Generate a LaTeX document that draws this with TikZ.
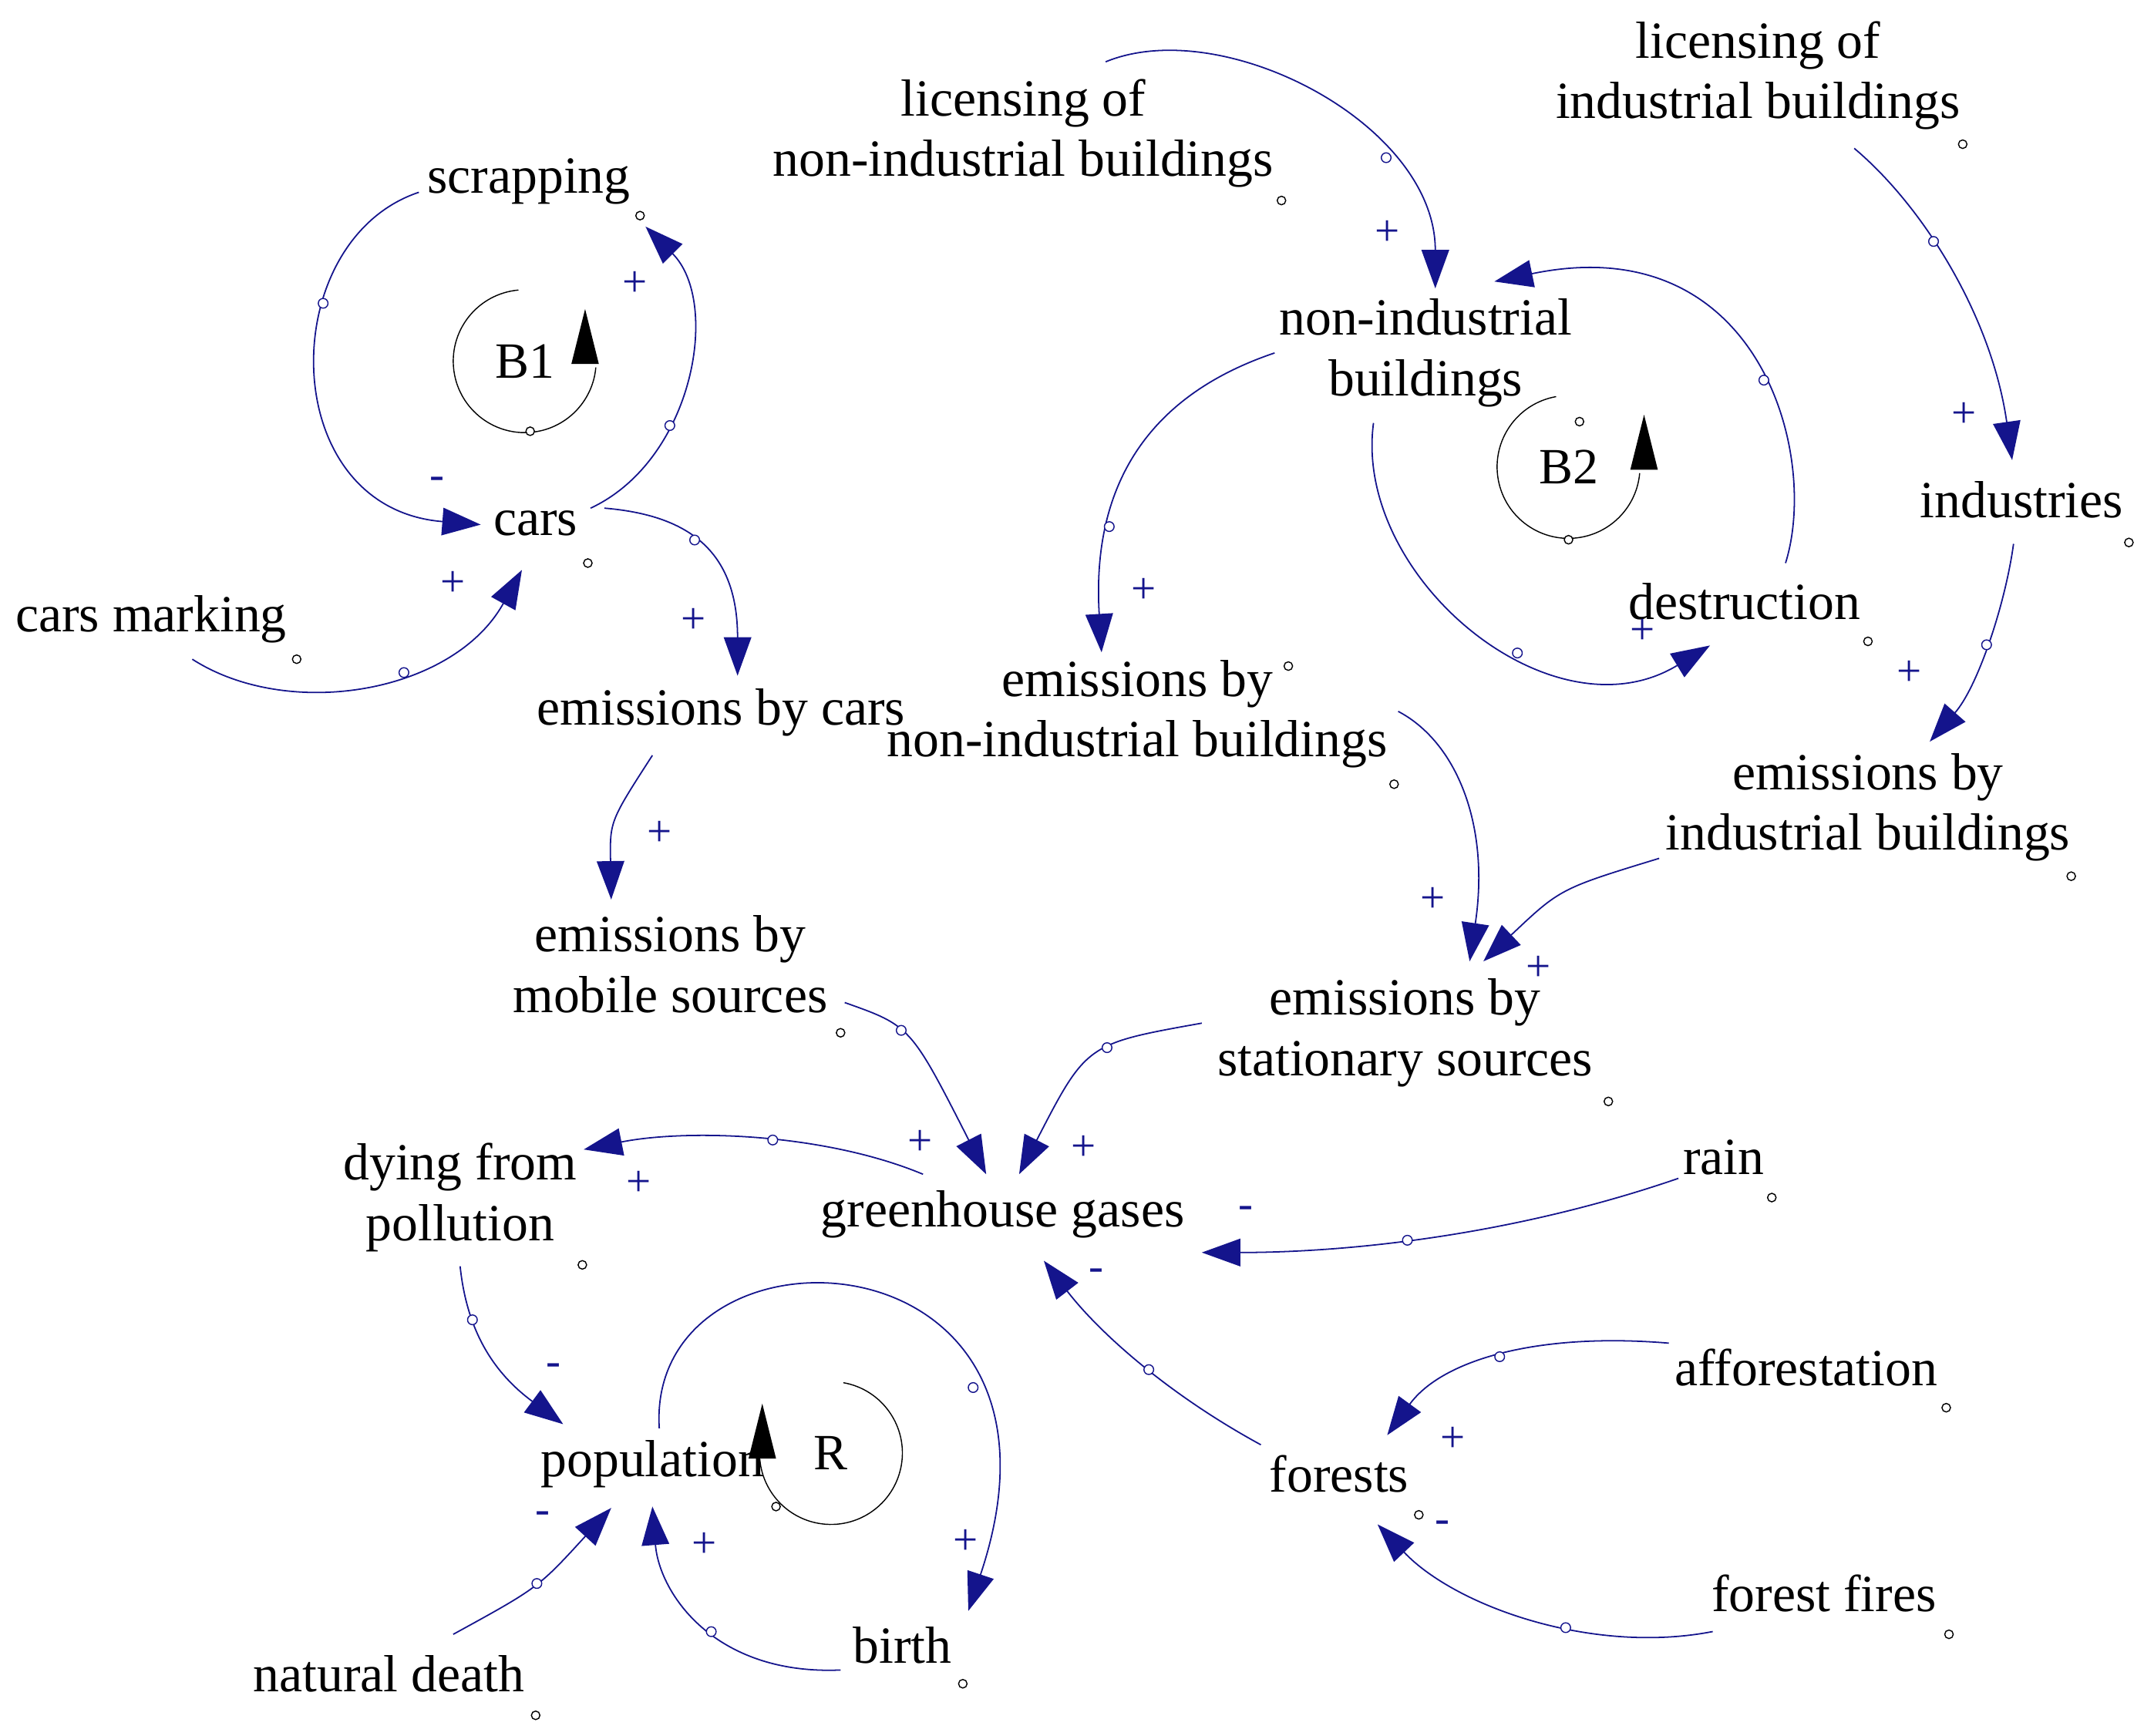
\documentclass[tikz,border=0pt]{standalone}
\usepackage{fontspec}
\setmainfont{Liberation Serif}
\usetikzlibrary{arrows.meta}
\definecolor{nv}{RGB}{20,20,140}
\begin{document}
\begin{tikzpicture}[x=1pt,y=-1pt,
 t/.style={font=\fontsize{38}{44}\selectfont,align=center,inner sep=1pt},
 ar/.style={draw=nv,line width=1pt,-{Triangle[length=28pt,width=20pt]},fill=none},
 h/.style={circle,draw=nv,fill=white,inner sep=2.5pt,line width=0.8pt},
 s/.style={text=nv,font=\fontsize{32}{32}\selectfont},
 lp/.style={draw=black,line width=0.8pt},
 tri/.style={fill=black},
 lt/.style={font=\fontsize{37}{40}\selectfont}]
\useasboundingbox (0,0) rectangle (1561,1264);
% nodes
\node[t] (scr) at (385,132) {scrapping};
\node[t] (cars) at (390,381) {cars};
\node[t] (cm) at (110,451) {cars marking};
\node[t] (ebc) at (525,519) {emissions by cars};
\node[t] (mob) at (488,702) {emissions by\\mobile sources};
\node[t] (lnb) at (745,97) {licensing of\\non-industrial buildings};
\node[t] (nib) at (1038,257) {non-industrial\\buildings};
\node[t] (des) at (1270,438) {destruction};
\node[t] (lib) at (1280,55) {licensing of\\industrial buildings};
\node[t] (ind) at (1472,364) {industries};
\node[t] (enib) at (828,520) {emissions by\\non-industrial buildings};
\node[t] (eib) at (1360,588) {emissions by\\industrial buildings};
\node[t] (stat) at (1023,752) {emissions by\\stationary sources};
\node[t] (gg) at (730,884) {greenhouse gases};
\node[t] (rain) at (1255,843) {rain};
\node[t] (dy) at (335,872) {dying from\\pollution};
\node[t] (pop) at (475,1066) {population};
\node[t] (birth) at (657,1198) {birth};
\node[t] (nd) at (283,1219) {natural death};
\node[t] (aff) at (1315,996) {afforestation};
\node[t] (for) at (975,1073) {forests};
\node[t] (ff) at (1328,1160) {forest fires};
\node[lt] (b1) at (382,263) {B1};
\node[lt] (b2) at (1142,340) {B2};
\node[lt] (r) at (605,1058) {R};
% loop markers
\draw[lp] (b1.center) +(-95:52) arc[start angle=-95,end angle=-355,radius=52];
\fill[tri] (b1.center) ++(44,0) +(-10,2) -- +(10,2) -- +(0,-38) -- cycle;
\draw[lp] (b2.center) +(-100:52) arc[start angle=-100,end angle=-355,radius=52];
\fill[tri] (b2.center) ++(55,0) +(-10,2) -- +(10,2) -- +(0,-38) -- cycle;
\draw[lp] (r.center) +(-80:52) arc[start angle=-80,end angle=175,radius=52];
\fill[tri] (r.center) ++(-50,2) +(-10,2) -- +(10,2) -- +(0,-38) -- cycle;
% endpoints
\coordinate (p1) at (430,370); \coordinate (q1) at (470,165);
\coordinate (p2) at (305,140); \coordinate (q2) at (350,382);
\coordinate (p3) at (140,480); \coordinate (q3) at (380,415);
\coordinate (p4) at (440,370); \coordinate (q4) at (537,492);
\coordinate (p5) at (475,550); \coordinate (q5) at (445,655);
\coordinate (p6) at (615,730); \coordinate (q6) at (718,855);
\coordinate (p7) at (875,745); \coordinate (q7) at (742,855);
\coordinate (p8) at (805,45); \coordinate (q8) at (1045,210);
\coordinate (p9) at (1300,410); \coordinate (q9) at (1088,205);
\coordinate (p10) at (1000,308); \coordinate (q10) at (1245,470);
\coordinate (p11) at (928,257); \coordinate (q11) at (802,475);
\coordinate (p12) at (1350,108); \coordinate (q12) at (1465,335);
\coordinate (p13) at (1466,396); \coordinate (q13) at (1405,540);
\coordinate (p14) at (1018,518); \coordinate (q14) at (1070,700);
\coordinate (p15) at (1208,625); \coordinate (q15) at (1080,700);
\coordinate (p16) at (672,855); \coordinate (q16) at (425,837);
\coordinate (p17) at (1222,858); \coordinate (q17) at (875,912);
\coordinate (p18) at (918,1052); \coordinate (q18) at (760,918);
\coordinate (p19) at (335,922); \coordinate (q19) at (410,1037);
\coordinate (p20) at (480,1040); \coordinate (q20) at (705,1173);
\coordinate (p21) at (612,1216); \coordinate (q21) at (475,1097);
\coordinate (p22) at (330,1190); \coordinate (q22) at (445,1098);
\coordinate (p23) at (1215,978); \coordinate (q23) at (1010,1045);
\coordinate (p24) at (1247,1188); \coordinate (q24) at (1003,1110);
% connectors
\draw[ar] (p1) .. controls (505,335) and (525,220) .. node[h,pos=.35]{} (q1);
\draw[ar] (p2) .. controls (200,175) and (200,370) .. node[h,pos=.35]{} (q2);
\draw[ar] (p3) .. controls (210,525) and (330,505) .. node[h,pos=.6]{} (q3);
\draw[ar] (p4) .. controls (500,375) and (537,400) .. node[h,pos=.45]{} (q4);
\draw[ar] (p5) .. controls (444,598) .. (q5);
\draw[ar] (p6) .. controls (663,747) .. node[h,pos=.4]{} (q6);
\draw[ar] (p7) .. controls (791,760) .. node[h,pos=.4]{} (q7);
\draw[ar] (p8) .. controls (890,10) and (1045,90) .. node[h,pos=.7]{} (q8);
\draw[ar] (p9) .. controls (1325,330) and (1280,165) .. node[h,pos=.45]{} (q9);
\draw[ar] (p10) .. controls (985,420) and (1130,540) .. node[h,pos=.6]{} (q10);
\draw[ar] (p11) .. controls (830,290) and (795,360) .. node[h,pos=.7]{} (q11);
\draw[ar] (p12) .. controls (1400,150) and (1450,230) .. node[h,pos=.4]{} (q12);
\draw[ar] (p13) .. controls (1460,440) and (1440,500) .. node[h,pos=.5]{} (q13);
\draw[ar] (p14) .. controls (1060,540) and (1085,600) .. (q14);
\draw[ar] (p15) .. controls (1136,647) .. (q15);
\draw[ar] (p16) .. controls (600,825) and (500,822) .. node[h,pos=.45]{} (q16);
\draw[ar] (p17) .. controls (1100,900) and (980,912) .. node[h,pos=.55]{} (q17);
\draw[ar] (p18) .. controls (850,1015) and (800,970) .. node[h,pos=.45]{} (q18);
\draw[ar] (p19) .. controls (340,970) and (360,1000) .. node[h,pos=.3]{} (q19);
\draw[ar] (p20) .. controls (470,880) and (800,890) .. node[h,pos=.75]{} (q20);
\draw[ar] (p21) .. controls (520,1220) and (480,1160) .. node[h,pos=.45]{} (q21);
\draw[ar] (p22) .. controls (392,1156) .. node[h,pos=.5]{} (q22);
\draw[ar] (p23) .. controls (1120,970) and (1050,990) .. node[h,pos=.5]{} (q23);
\draw[ar] (p24) .. controls (1160,1205) and (1060,1170) .. node[h,pos=.4]{} (q24);
% small handles near labels
\foreach \x/\y [count=\i] in {466/157,428/410,216/480,933/146,1429/105,1150/307,1360/467,938/485,1550/395,1015/571,1508/638,1171/802,612/752,424/921,1290/872,386/314,1142/393,565/1097,701/1226,390/1249,1417/1025,1033/1103,1419/1190}
  \node[h,inner sep=2.2pt,draw=black] (o\i) at (\x,\y) {};
% signs
\node[s] (s1) at (462,207) {+};
\node[s] (s2) at (318,352) {-};
\node[s] (s3) at (330,425) {+};
\node[s] (s4) at (505,452) {+};
\node[s] (s5) at (480,607) {+};
\node[s] (s6) at (670,832) {+};
\node[s] (s7) at (789,836) {+};
\node[s] (s8) at (1010,170) {+};
\node[s] (s9) at (1196,460) {+};
\node[s] (s10) at (833,430) {+};
\node[s] (s11) at (1430,302) {+};
\node[s] (s12) at (1390,490) {+};
\node[s] (s13) at (1043,655) {+};
\node[s] (s14) at (1120,705) {+};
\node[s] (s15) at (465,862) {+};
\node[s] (s16) at (907,883) {-};
\node[s] (s17) at (798,928) {-};
\node[s] (s18) at (403,997) {-};
\node[s] (s19) at (703,1123) {+};
\node[s] (s20) at (513,1125) {+};
\node[s] (s21) at (395,1105) {-};
\node[s] (s22) at (1058,1048) {+};
\node[s] (s23) at (1050,1112) {-};
\end{tikzpicture}
\end{document}
